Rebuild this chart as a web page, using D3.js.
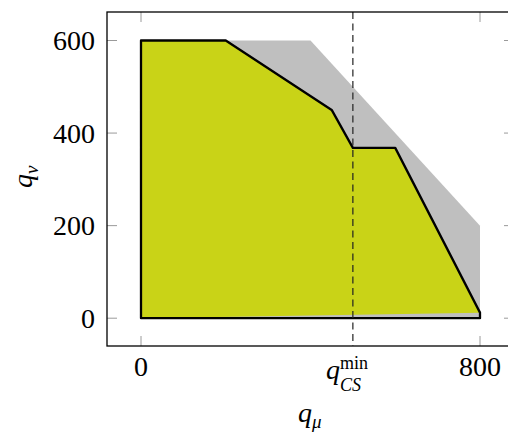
<!DOCTYPE html>
<html>
<head>
<meta charset="utf-8">
<script src="https://cdn.jsdelivr.net/npm/d3@7"></script>
<style>
  html, body { margin: 0; padding: 0; background: #fff; }
  svg { display: block; }
</style>
</head>
<body>
<svg id="chart" width="508" height="436"></svg>
<script>
// Feasible region (outer bound) in the (q_mu, q_nu) plane
const boundMu = [0, 0, 400, 800, 800];
const boundNu = [0, 600, 600, 200, 0];

// Achievable region: filled part and its outline
const regionMu = [0, 0, 200, 450, 500, 600, 800];
const regionNu = [0, 600, 600, 450, 368, 368, 12];
const outlineMu = [0, 0, 200, 450, 500, 600, 800, 800];
const outlineNu = [0, 600, 600, 450, 368, 368, 12, 0];

// Threshold marker on the q_mu axis
const qcsMin = 500;

const xTicks = [0, 800];
const yTicks = [0, 200, 400, 600];

const serif = "'Liberation Serif', 'Times New Roman', serif";

const svg = d3.select("#chart");
const frame = { left: 107, right: 514, top: 12, bottom: 346 };

const x = d3.scaleLinear().domain([0, 800]).range([141, 480]);
const y = d3.scaleLinear().domain([0, 600]).range([318.2, 40.5]);

const pts = (mu, nu) => mu.map((m, i) => [x(m), y(nu[i])]);
const line = d3.line().curve(d3.curveLinearClosed);

// Outer bound in gray
svg.append("path")
  .attr("d", line(pts(boundMu, boundNu)))
  .attr("fill", "#bfbfbf")
  .attr("stroke", "none");

// Achievable region fill
svg.append("path")
  .attr("d", line(pts(regionMu, regionNu)))
  .attr("fill", "#c9d317")
  .attr("stroke", "none");

// Region outline
svg.append("path")
  .attr("d", line(pts(outlineMu, outlineNu)))
  .attr("fill", "none")
  .attr("stroke", "#000")
  .attr("stroke-width", 2.3)
  .attr("stroke-linejoin", "round");

// Ticks (gray, inward, on all four sides)
const tickLen = 10;
const tickG = svg.append("g").attr("stroke", "#9a9a9a").attr("stroke-width", 1);
xTicks.forEach(t => {
  tickG.append("line").attr("x1", x(t)).attr("x2", x(t))
    .attr("y1", frame.bottom).attr("y2", frame.bottom - tickLen);
  tickG.append("line").attr("x1", x(t)).attr("x2", x(t))
    .attr("y1", frame.top).attr("y2", frame.top + tickLen);
});
yTicks.forEach(t => {
  tickG.append("line").attr("x1", frame.left).attr("x2", frame.left + tickLen)
    .attr("y1", y(t)).attr("y2", y(t));
  tickG.append("line").attr("x1", frame.right).attr("x2", frame.right - tickLen)
    .attr("y1", y(t)).attr("y2", y(t));
});

// Dashed threshold line
svg.append("line")
  .attr("x1", x(qcsMin)).attr("x2", x(qcsMin))
  .attr("y1", frame.top).attr("y2", frame.bottom)
  .attr("stroke", "#222")
  .attr("stroke-width", 1.2)
  .attr("stroke-dasharray", "7,4.5");

// Axis frame
svg.append("rect")
  .attr("x", frame.left).attr("y", frame.top)
  .attr("width", frame.right - frame.left)
  .attr("height", frame.bottom - frame.top)
  .attr("fill", "none")
  .attr("stroke", "#000")
  .attr("stroke-width", 1.3);

// Tick labels
const fs = 28;
const txt = () => svg.append("text")
  .attr("font-family", serif)
  .style("font-family", serif)
  .attr("fill", "#000");

yTicks.forEach(t => {
  txt().attr("x", 95).attr("y", y(t))
    .attr("dy", "0.34em")
    .attr("text-anchor", "end")
    .attr("font-size", fs)
    .text(t);
});
xTicks.forEach(t => {
  txt().attr("x", x(t)).attr("y", 376)
    .attr("text-anchor", "middle")
    .attr("font-size", fs)
    .text(t);
});

// q_CS^min label under the dashed line
const qcs = txt().attr("x", x(qcsMin) - 27).attr("y", 379).attr("font-size", fs);
qcs.append("tspan").attr("font-style", "italic").text("q");
qcs.append("tspan").attr("font-size", 18).attr("dy", -10).text("min");
txt().attr("x", x(qcsMin) - 13).attr("y", 391)
  .attr("font-size", 18).attr("font-style", "italic")
  .text("CS");

// Axis titles
const xl = txt().attr("x", 298).attr("y", 422).attr("font-size", fs);
xl.append("tspan").attr("font-style", "italic").text("q");
xl.append("tspan").attr("font-style", "italic").attr("font-size", 19).attr("dy", 6).text("μ");

const yl = txt().attr("transform", "translate(32,188) rotate(-90)").attr("font-size", fs);
yl.append("tspan").attr("font-style", "italic").text("q");
yl.append("tspan").attr("font-style", "italic").attr("font-size", 19).attr("dy", 6).text("ν");
</script>
</body>
</html>
